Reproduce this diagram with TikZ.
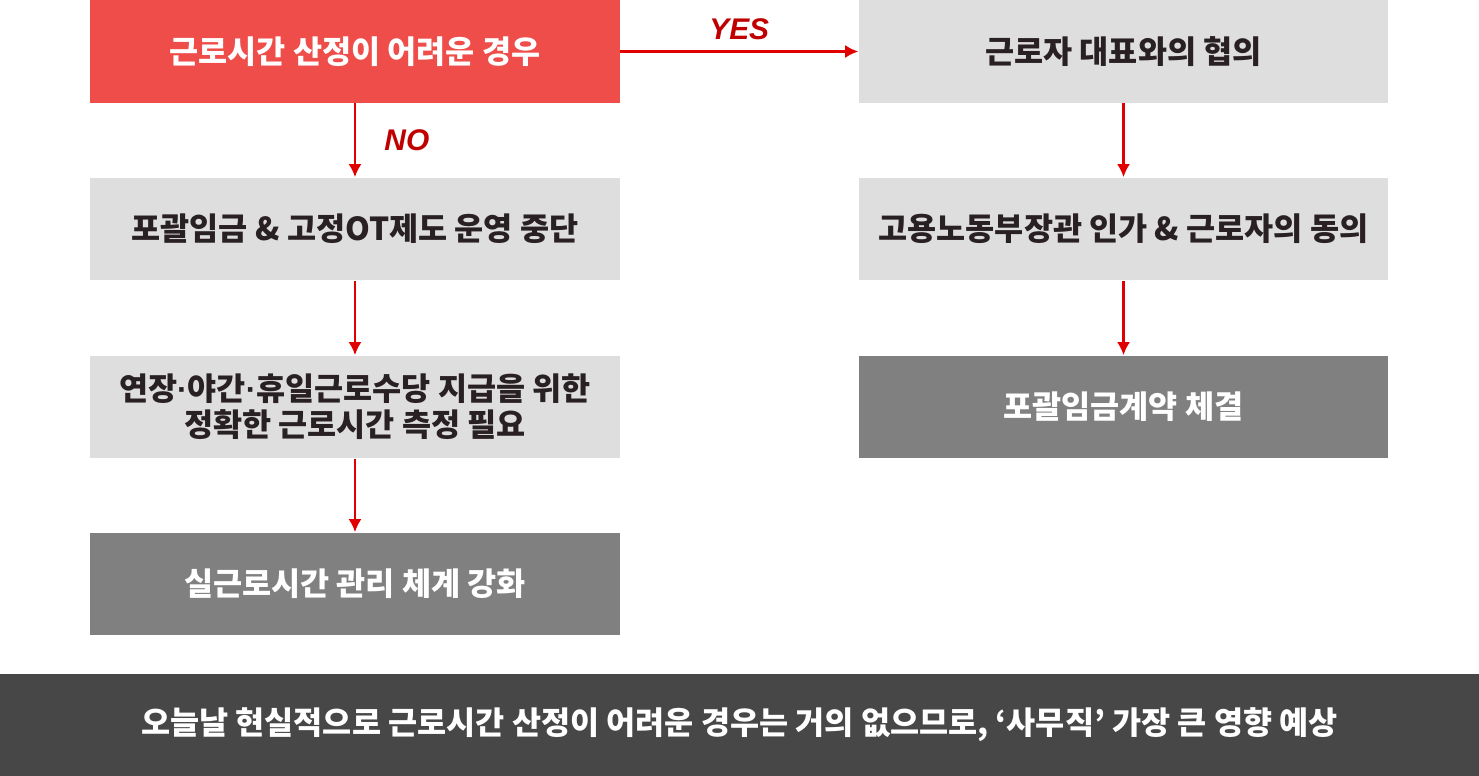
\documentclass[tikz,border=0pt]{standalone}
\usepackage{fontspec}
\setmainfont{Noto Sans CJK KR}
\newfontfamily\yesnofont{Liberation Sans}
\newcommand{\middot}{{\yesnofont ·}}
\usepackage{tikz}
\usetikzlibrary{arrows.meta,positioning}
\definecolor{HeadRed}{RGB}{239,77,74}
\definecolor{StepGray}{RGB}{222,222,222}
\definecolor{EndGray}{RGB}{128,128,128}
\definecolor{BandGray}{RGB}{71,71,71}
\definecolor{TextDark}{RGB}{40,32,34}
\definecolor{ArrRed}{RGB}{224,0,0}
\definecolor{LabelRed}{RGB}{192,0,0}
\tikzset{
    headbox/.style={fill=HeadRed, text=white, minimum width=10.6cm, minimum height=2.06cm, align=center, font=\fontsize{18}{20.5}\selectfont\bfseries},
    stepbox/.style={fill=StepGray, text=TextDark, minimum width=10.6cm, minimum height=2.06cm, align=center, font=\fontsize{18}{20.5}\selectfont\bfseries},
    endbox/.style={fill=EndGray, text=white, minimum width=10.6cm, minimum height=2.06cm, align=center, font=\fontsize{18}{20.5}\selectfont\bfseries},
    bandbox/.style={fill=BandGray, text=white, minimum width=29.58cm, minimum height=2.04cm, align=center, font=\fontsize{18}{20.5}\selectfont\bfseries},
    redarr/.style={-{Latex[length=0.26cm,width=0.26cm]}, line width=1.3pt, ArrRed},
    yesno/.style={text=LabelRed, font=\yesnofont\fontsize{17}{18}\selectfont\bfseries\itshape},
}
\begin{document}
\begin{tikzpicture}[x=0.02cm, y=-0.02cm]
\useasboundingbox (0,0) rectangle (1479,776);
% left column
\node[headbox] (hard) at (355,51.5) {근로시간 산정이 어려운 경우};
\node[stepbox] (stop) at (355,229) {포괄임금 \& 고정OT제도 운영 중단};
\node[stepbox] (measure) at (355,407) {연장\middot 야간\middot 휴일근로수당 지급을 위한\\정확한 근로시간 측정 필요};
\node[endbox] (manage) at (355,584) {실근로시간 관리 체계 강화};
% right column
\node[stepbox] (consult) at (1123.5,51.5) {근로자 대표와의 협의};
\node[stepbox] (approve) at (1123.5,229) {고용노동부장관 인가 \& 근로자의 동의};
\node[endbox] (contract) at (1123.5,407) {포괄임금계약 체결};
% bottom band
\node[bandbox] (note) at (739.5,725) {오늘날 현실적으로 근로시간 산정이 어려운 경우는 거의 없으므로, ‘사무직’ 가장 큰 영향 예상};

\draw[redarr] (hard) -- node[yesno, above=0.1cm]{YES} (consult);
\draw[redarr] (hard) -- node[yesno, right=0.45cm]{NO} (stop);
\draw[redarr] (stop) -- (measure);
\draw[redarr] (measure) -- (manage);
\draw[redarr] (consult) -- (approve);
\draw[redarr] (approve) -- (contract);
\end{tikzpicture}
\end{document}
